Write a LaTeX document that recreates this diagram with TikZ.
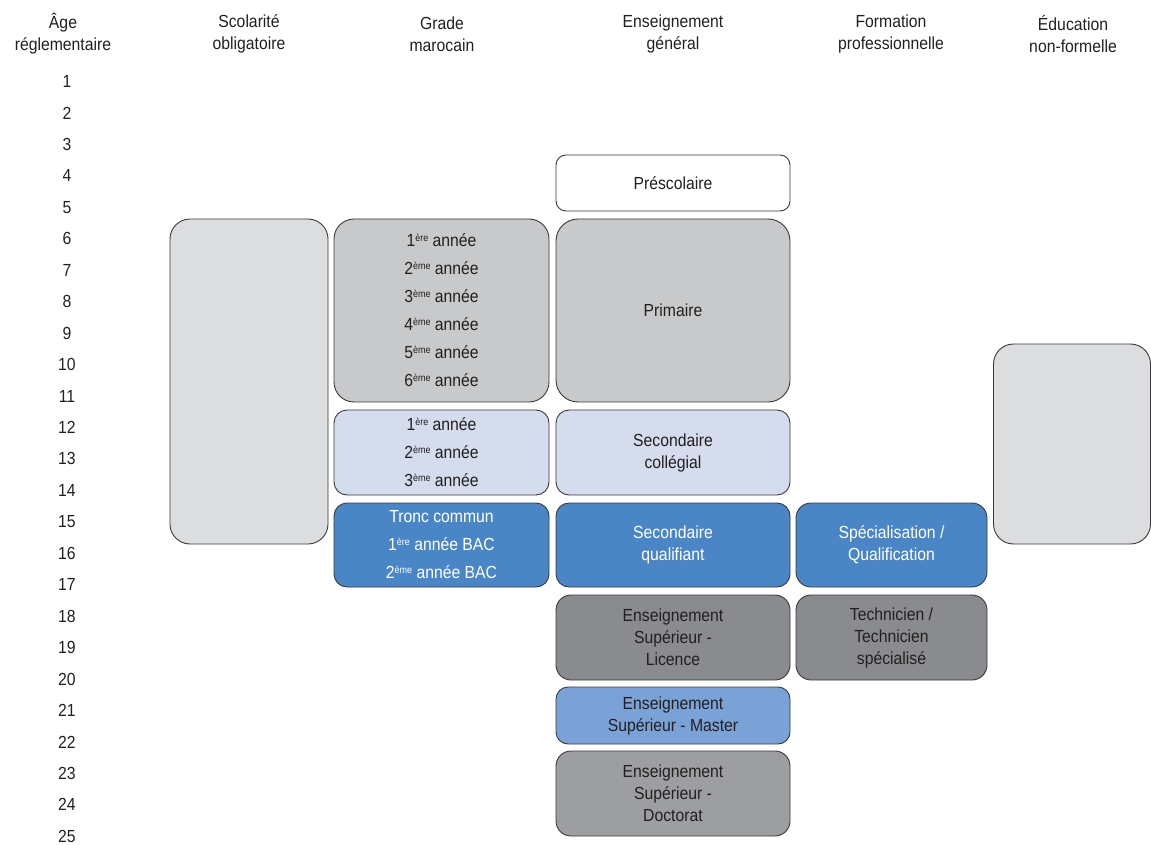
\documentclass[tikz,border=0pt]{standalone}
\usepackage{fontspec}
\setmainfont{Liberation Sans}[FakeStretch=0.9]
\definecolor{txt}{HTML}{231F20}
\definecolor{bord}{HTML}{3A3A3C}
\definecolor{gPrim}{HTML}{C8C9CB}
\definecolor{gLight}{HTML}{DCDDDF}
\definecolor{bCol}{HTML}{D4DCEE}
\definecolor{bQual}{HTML}{4A86C5}
\definecolor{gDark}{HTML}{8A8B8E}
\definecolor{bMast}{HTML}{7BA2D6}
\definecolor{gDoc}{HTML}{9D9EA1}
\newcommand\ex[1]{\raisebox{5.5pt}{\fontsize{10}{10}\selectfont #1}}
\begin{document}
\begin{tikzpicture}[x=1pt,y=-1pt,
  every node/.style={text=txt, font=\fontsize{17.5}{22}\selectfont},
  head/.style={align=center},
  agenum/.style={inner sep=0pt},
  box/.style={draw=bord, line width=0.9pt, inner sep=0pt, align=center},
  grades/.style={box, font=\fontsize{17.5}{28}\selectfont}]
\useasboundingbox (0,0) rectangle (1151,845);
% headers
\node[head] (h1) at (63,34) {Âge\\réglementaire};
\node[head] (h2) at (249,34) {Scolarité\\obligatoire};
\node[head] (h3) at (442,34) {Grade\\marocain};
\node[head] (h4) at (673,34) {Enseignement\\général};
\node[head] (h5) at (891,34) {Formation\\professionnelle};
\node[head] (h6) at (1073,34) {Éducation\\non-formelle};
% ages
\foreach \a in {1,...,25} {
  \node[agenum] (age\a) at (67,{81.5+(\a-1)*31.45}) {\a};
}
% scolarite obligatoire
\node[box, fill=gLight, rounded corners=20pt, minimum width=158pt, minimum height=325pt] (scol) at (249,381.5) {};
% grades
\node[grades, fill=gPrim, rounded corners=20pt, minimum width=215pt, minimum height=183pt] (g1) at (441.5,310.5)
 {1\ex{ère} année\\2\ex{ème} année\\3\ex{ème} année\\4\ex{ème} année\\5\ex{ème} année\\6\ex{ème} année};
\node[grades, fill=bCol, rounded corners=13pt, minimum width=215pt, minimum height=85pt] (g2) at (441.5,452.5)
 {1\ex{ère} année\\2\ex{ème} année\\3\ex{ème} année};
\node[grades, fill=bQual, rounded corners=13pt, minimum width=215pt, minimum height=84pt, text=white] (g3) at (441.5,545)
 {Tronc commun\\1\ex{ère} année BAC\\2\ex{ème} année BAC};
% enseignement general
\node[box, fill=white, rounded corners=10pt, minimum width=234pt, minimum height=56pt] (pre) at (673,183) {Préscolaire};
\node[box, fill=gPrim, rounded corners=22pt, minimum width=234pt, minimum height=183pt] (prim) at (673,310.5) {Primaire};
\node[box, fill=bCol, rounded corners=13pt, minimum width=234pt, minimum height=85pt] (coll) at (673,452.5) {Secondaire\\collégial};
\node[box, fill=bQual, rounded corners=13pt, minimum width=234pt, minimum height=84pt, text=white] (qual) at (673,545) {Secondaire\\qualifiant};
\node[box, fill=gDark, rounded corners=15pt, minimum width=234pt, minimum height=85pt] (lic) at (673,637.5) {Enseignement\\Supérieur -\\Licence};
\node[box, fill=bMast, rounded corners=12pt, minimum width=234pt, minimum height=57pt] (mas) at (673,715.5) {Enseignement\\Supérieur - Master};
\node[box, fill=gDoc, rounded corners=15pt, minimum width=234pt, minimum height=85pt] (doc) at (673,793.5) {Enseignement\\Supérieur -\\Doctorat};
% formation professionnelle
\node[box, fill=bQual, rounded corners=15pt, minimum width=191pt, minimum height=84pt, text=white] (spec) at (891.5,545) {Spécialisation /\\Qualification};
\node[box, fill=gDark, rounded corners=15pt, minimum width=191pt, minimum height=85pt] (tech) at (891.5,637.5) {Technicien /\\Technicien\\spécialisé};
% education non formelle
\node[box, fill=gLight, rounded corners=20pt, minimum width=157pt, minimum height=200pt] (nf) at (1072,444) {};
\end{tikzpicture}
\end{document}
